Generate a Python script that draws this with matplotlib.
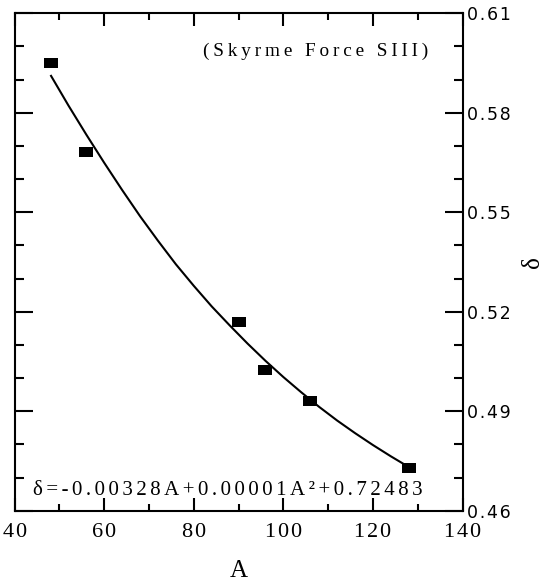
import matplotlib
matplotlib.use("Agg")
import matplotlib.pyplot as plt
from matplotlib.ticker import MultipleLocator, FuncFormatter

# data points (squares)
mass_A = [48, 56, 90, 96, 106, 128]
delta_vals = [0.5951, 0.5683, 0.5169, 0.5024, 0.4931, 0.4730]

# fitted curve
curve_A = [48, 52, 56, 60, 64, 68, 72, 76, 80, 84, 88, 92, 96, 100, 104, 108, 112,
           116, 120, 124, 127.1]
curve_d = [0.5914, 0.5822, 0.5734, 0.5649, 0.5567, 0.5488, 0.5414, 0.5343, 0.5278,
           0.5216, 0.5159, 0.5104, 0.5052, 0.5003, 0.4957, 0.4913, 0.4872, 0.4834,
           0.4798, 0.4764, 0.4739]

x_ticks = [40, 60, 80, 100, 120, 140]
y_ticks = [0.46, 0.49, 0.52, 0.55, 0.58, 0.61]

title_txt = "(Skyrme Force SIII)"
eq_txt = "δ=-0.00328A+0.00001A²+0.72483"

serif = ["Liberation Serif", "DejaVu Serif"]
sans = ["DejaVu Sans"]

fig = plt.figure(figsize=(5.48, 5.82), dpi=100)
ax = fig.add_axes([14.7 / 548, 1 - 510.7 / 582, (462.5 - 14.7) / 548, (510.7 - 13.3) / 582])
renderer = fig.canvas.get_renderer()

SPACERS = ["", "\u200a", "\u2006", "\u2009", "\u2005"]


def _width(txt, size, family):
    t = fig.text(0, 0, txt, fontsize=size, fontfamily=family)
    w = t.get_window_extent(renderer).width
    t.remove()
    return w


def spaced(s, size, family, target_px):
    """uniform letter spacing; returns (text, size) with size closest to the wanted one"""
    best = (s, size, None)
    for sp in SPACERS:
        txt = sp.join(s)
        w = _width(txt, size, family)
        need = size * target_px / w
        if best[2] is None or abs(need - size) < best[2]:
            best = (txt, need, abs(need - size))
    return best[0], best[1]


ax.plot(curve_A, curve_d, color="black", lw=1.5, solid_capstyle="butt")
rect = [(-1, -0.7), (1, -0.7), (1, 0.7), (-1, 0.7), (-1, -0.7)]
ax.plot(mass_A, delta_vals, linestyle="none", marker=rect, markersize=9.6,
        color="black", markeredgewidth=0)

ax.set_xlim(40, 140)
ax.set_ylim(0.46, 0.61)
ax.set_xticks(x_ticks)
ax.set_yticks(y_ticks)
ax.xaxis.set_minor_locator(MultipleLocator(10))
ax.yaxis.set_minor_locator(MultipleLocator(0.01))
ax.xaxis.set_major_formatter(FuncFormatter(lambda v, p: "\u200a".join("%d" % v)))
ax.yaxis.set_major_formatter(FuncFormatter(lambda v, p: "\u200a".join("%.2f" % v)))

for s in ax.spines.values():
    s.set_linewidth(1.5)

ax.tick_params(axis="x", which="both", direction="in", top=True, bottom=True,
               labeltop=False, width=1.5, pad=9)
ax.tick_params(axis="x", which="major", length=9.5)
ax.tick_params(axis="x", which="minor", length=5)
ax.tick_params(axis="y", which="both", direction="in", left=True, right=True,
               labelleft=False, labelright=True, width=1.5, pad=3.5)
ax.tick_params(axis="y", which="major", length=13)
ax.tick_params(axis="y", which="minor", length=6.5)

for lab in ax.get_xticklabels():
    lab.set_fontfamily(serif)
    lab.set_fontsize(16)
for lab in ax.get_yticklabels():
    lab.set_fontfamily(sans)
    lab.set_fontsize(12.5)

ax.set_xlabel("A", fontfamily=serif, fontsize=18, labelpad=13)
ax.yaxis.set_label_position("right")
ax.set_ylabel("δ", fontfamily=serif, fontsize=18, labelpad=8, rotation=90)

t_txt, t_size = spaced(title_txt, 13.5, serif, 226)
ax.text(0.923, 0.923, t_txt, transform=ax.transAxes,
        ha="right", va="center", fontfamily=serif, fontsize=t_size)
e_txt, e_size = spaced(eq_txt, 16, serif, 391)
ax.text(0.0415, 0.0316, e_txt, transform=ax.transAxes,
        ha="left", va="baseline", fontfamily=serif, fontsize=e_size)

fig.savefig("out.png", dpi=100)
